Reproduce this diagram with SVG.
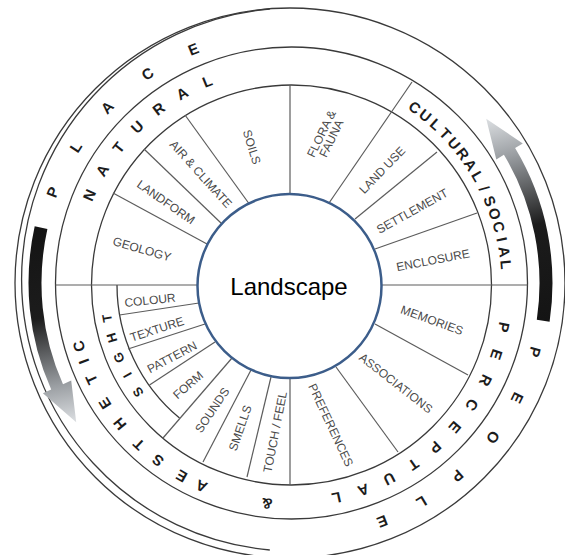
<svg xmlns="http://www.w3.org/2000/svg" width="565" height="555" viewBox="0 0 565 555">
<defs>
<style>
.ring{fill:none;stroke:#3a3a3a;stroke-width:1.3}
.div{fill:none;stroke:#5c5c5c;stroke-width:1.2}
.sub{font-family:"Liberation Sans",Arial,sans-serif;font-size:12px;fill:#4a4a4a;text-anchor:middle}
.cat{font-family:"Liberation Sans",Arial,sans-serif;font-size:15px;font-weight:bold;fill:#1c1c1c;text-anchor:middle}
.sight{font-family:"Liberation Sans",Arial,sans-serif;font-size:13px;font-weight:bold;fill:#1c1c1c;text-anchor:middle}
.title{font-family:"Liberation Sans",Arial,sans-serif;font-size:24px;fill:#000;text-anchor:middle}
</style>
<linearGradient id="gR" gradientUnits="userSpaceOnUse" x1="543" y1="321" x2="486" y2="119">
<stop offset="0" stop-color="#141414"/><stop offset="0.45" stop-color="#1c1c1c"/><stop offset="0.8" stop-color="#9a9ea2"/><stop offset="1" stop-color="#dcdfe2"/>
</linearGradient>
<linearGradient id="gL" gradientUnits="userSpaceOnUse" x1="41" y1="228" x2="76" y2="422">
<stop offset="0" stop-color="#141414"/><stop offset="0.45" stop-color="#1c1c1c"/><stop offset="0.8" stop-color="#9a9ea2"/><stop offset="1" stop-color="#dcdfe2"/>
</linearGradient>
</defs>
<rect width="565" height="555" fill="#ffffff"/>
<g id="rings">
<circle class="ring" cx="290" cy="283" r="275"/>
<path class="ring" d="M269.8 550 A271.5 271.5 0 0 1 269.8 9"/>
<circle class="ring" cx="291.5" cy="283" r="236"/>
<circle class="ring" cx="291.5" cy="285" r="200"/>
<path class="ring" d="M117 285 A173 173 0 0 0 179.5 418.1"/>
</g>
<g id="arrows">
<path id="arrow-right" fill="url(#gR)" d="M536.8 319.8 A249 249 0 0 0 503.9 154.8 L496.3 159.4 L486.2 118.8 L522.8 143.4 L515.1 148.1 A262 262 0 0 1 549.6 321.7 Z"/>
<path id="arrow-left" fill="url(#gL)" d="M34.7 226.3 A262 262 0 0 0 51.2 389.6 L42.9 393.2 L76.2 422.2 L71.2 380.6 L63.0 384.3 A249 249 0 0 1 47.4 229.1 Z"/>
</g>
<g id="connectors">
<line class="div" x1="55.5" y1="285" x2="200" y2="285"/>
<line class="div" x1="113" y1="193" x2="207" y2="244"/>
<line class="div" x1="144" y1="149" x2="222" y2="224"/>
<line class="div" x1="185" y1="115" x2="250" y2="205"/>
<line class="div" x1="290" y1="85" x2="290" y2="196"/>
<line class="div" x1="412" y1="82" x2="329" y2="203"/>
<line class="div" x1="437" y1="152" x2="355" y2="219"/>
<line class="div" x1="477" y1="213" x2="375" y2="249"/>
<line class="div" x1="378" y1="285" x2="527.5" y2="285"/>
<line class="div" x1="375" y1="324" x2="468" y2="375"/>
<line class="div" x1="336" y1="367" x2="398" y2="452"/>
<line class="div" x1="290" y1="374" x2="290" y2="485"/>
<line class="div" x1="119.5" y1="315" x2="199" y2="303"/>
<line class="div" x1="128" y1="349" x2="205" y2="324"/>
<line class="div" x1="149.5" y1="385" x2="215" y2="342"/>
<line class="div" x1="163" y1="438" x2="232" y2="358"/>
<line class="div" x1="203" y1="462" x2="251" y2="370"/>
<line class="div" x1="247" y1="477" x2="271" y2="377"/>
</g>
<g id="outer-labels">
<g id="place">
<text class="cat" x="290" y="35.5" transform="rotate(-68.6 290 285)">P</text>
<text class="cat" x="290" y="35.5" transform="rotate(-57.2 290 285)">L</text>
<text class="cat" x="290" y="35.5" transform="rotate(-45.8 290 285)">A</text>
<text class="cat" x="290" y="35.5" transform="rotate(-34 290 285)">C</text>
<text class="cat" x="290" y="35.5" transform="rotate(-22.3 290 285)">E</text>
</g>
<g id="people">
<text class="cat" x="290" y="36.5" transform="rotate(105.3 290 285)">P</text>
<text class="cat" x="290" y="36.5" transform="rotate(116.4 290 285)">E</text>
<text class="cat" x="290" y="36.5" transform="rotate(126.9 290 285)">O</text>
<text class="cat" x="290" y="36.5" transform="rotate(138.7 290 285)">P</text>
<text class="cat" x="290" y="36.5" transform="rotate(148.8 290 285)">L</text>
<text class="cat" x="290" y="36.5" transform="rotate(158.7 290 285)">E</text>
</g>
</g>
<g id="category-labels">
<g id="natural">
<text class="cat" x="290" y="70.5" transform="rotate(-65.9 290 285)">N</text>
<text class="cat" x="290" y="70.5" transform="rotate(-58.6 290 285)">A</text>
<text class="cat" x="290" y="70.5" transform="rotate(-51.3 290 285)">T</text>
<text class="cat" x="290" y="70.5" transform="rotate(-44 290 285)">U</text>
<text class="cat" x="290" y="70.5" transform="rotate(-36.7 290 285)">R</text>
<text class="cat" x="290" y="70.5" transform="rotate(-29.4 290 285)">A</text>
<text class="cat" x="290" y="70.5" transform="rotate(-22.1 290 285)">L</text>
</g>
<g id="cultural-social">
<text class="cat" x="290" y="73.5" transform="rotate(35.1 290 285)">C</text>
<text class="cat" x="290" y="73.5" transform="rotate(38.6 290 285)">U</text>
<text class="cat" x="290" y="73.5" transform="rotate(42.2 290 285)">L</text>
<text class="cat" x="290" y="73.5" transform="rotate(45.7 290 285)">T</text>
<text class="cat" x="290" y="73.5" transform="rotate(49.2 290 285)">U</text>
<text class="cat" x="290" y="73.5" transform="rotate(52.8 290 285)">R</text>
<text class="cat" x="290" y="73.5" transform="rotate(56.3 290 285)">A</text>
<text class="cat" x="290" y="73.5" transform="rotate(59.9 290 285)">L</text>
<text class="cat" x="290" y="73.5" transform="rotate(63.6 290 285)">/</text>
<text class="cat" x="290" y="73.5" transform="rotate(67.2 290 285)">S</text>
<text class="cat" x="290" y="73.5" transform="rotate(70.8 290 285)">O</text>
<text class="cat" x="290" y="73.5" transform="rotate(74.4 290 285)">C</text>
<text class="cat" x="290" y="73.5" transform="rotate(77.9 290 285)">I</text>
<text class="cat" x="290" y="73.5" transform="rotate(81.2 290 285)">A</text>
<text class="cat" x="290" y="73.5" transform="rotate(84.6 290 285)">L</text>
</g>
<g id="perceptual">
<text class="cat" x="290" y="72.5" transform="rotate(101.2 290 285)">P</text>
<text class="cat" x="290" y="72.5" transform="rotate(108.6 290 285)">E</text>
<text class="cat" x="290" y="72.5" transform="rotate(116 290 285)">R</text>
<text class="cat" x="290" y="72.5" transform="rotate(123.4 290 285)">C</text>
<text class="cat" x="290" y="72.5" transform="rotate(130.8 290 285)">E</text>
<text class="cat" x="290" y="72.5" transform="rotate(138.2 290 285)">P</text>
<text class="cat" x="290" y="72.5" transform="rotate(145.5 290 285)">T</text>
<text class="cat" x="290" y="72.5" transform="rotate(152.9 290 285)">U</text>
<text class="cat" x="290" y="72.5" transform="rotate(160.3 290 285)">A</text>
<text class="cat" x="290" y="72.5" transform="rotate(167.7 290 285)">L</text>
</g>
<text id="amp" class="cat" x="290" y="70.5" transform="rotate(186 290 285)">&amp;</text>
<g id="aesthetic">
<text class="cat" x="290" y="70.5" transform="rotate(203.8 290 285)">A</text>
<text class="cat" x="290" y="70.5" transform="rotate(209.6 290 285)">E</text>
<text class="cat" x="290" y="70.5" transform="rotate(217 290 285)">S</text>
<text class="cat" x="290" y="70.5" transform="rotate(223.5 290 285)">T</text>
<text class="cat" x="290" y="70.5" transform="rotate(230.8 290 285)">H</text>
<text class="cat" x="290" y="70.5" transform="rotate(237.4 290 285)">E</text>
<text class="cat" x="290" y="70.5" transform="rotate(244.6 290 285)">T</text>
<text class="cat" x="290" y="70.5" transform="rotate(249.7 290 285)">I</text>
<text class="cat" x="290" y="70.5" transform="rotate(253.8 290 285)">C</text>
</g>
<g id="sight">
<text class="sight" x="290" y="103.7" transform="rotate(234.8 290 285)">S</text>
<text class="sight" x="290" y="103.7" transform="rotate(241 290 285)">I</text>
<text class="sight" x="290" y="103.7" transform="rotate(247 290 285)">G</text>
<text class="sight" x="290" y="103.7" transform="rotate(253.5 290 285)">H</text>
<text class="sight" x="290" y="103.7" transform="rotate(259.7 290 285)">T</text>
</g>
</g>
<g id="subcategories">
<text id="geology" class="sub" y="4.3" transform="translate(142 249) rotate(16)">GEOLOGY</text>
<text id="landform" class="sub" y="4.3" transform="translate(166 202) rotate(35)">LANDFORM</text>
<text id="air-climate" class="sub" y="4.3" transform="translate(201 174) rotate(48)">AIR &amp; CLIMATE</text>
<text id="soils" class="sub" y="4.3" transform="translate(252 147) rotate(73)">SOILS</text>
<text id="flora-fauna" class="sub" transform="translate(326 136) rotate(-64)"><tspan x="0" y="-1">FLORA &amp;</tspan><tspan x="0" y="10">FAUNA</tspan></text>
<text id="land-use" class="sub" y="4.3" transform="translate(382 170) rotate(-46)">LAND USE</text>
<text id="settlement" class="sub" y="4.3" transform="translate(412 211) rotate(-29)">SETTLEMENT</text>
<text id="enclosure" class="sub" y="4.3" transform="translate(433 260) rotate(-11)">ENCLOSURE</text>
<text id="memories" class="sub" y="4.3" transform="translate(432 320) rotate(20)">MEMORIES</text>
<text id="associations" class="sub" y="4.3" transform="translate(396 383) rotate(38)">ASSOCIATIONS</text>
<text id="preferences" class="sub" y="4.3" transform="translate(331 425) rotate(65)">PREFERENCES</text>
<text id="touch-feel" class="sub" y="4.3" transform="translate(275 432) rotate(-79)">TOUCH / FEEL</text>
<text id="smells" class="sub" y="4.3" transform="translate(240 428) rotate(-71)">SMELLS</text>
<text id="sounds" class="sub" y="4.3" transform="translate(212 410) rotate(-56)">SOUNDS</text>
<text id="form" class="sub" y="4.3" transform="translate(188 385) rotate(-41)">FORM</text>
<text id="pattern" class="sub" y="4.3" transform="translate(172 357) rotate(-28)">PATTERN</text>
<text id="texture" class="sub" y="4.3" transform="translate(157 329) rotate(-18)">TEXTURE</text>
<text id="colour" class="sub" y="4.3" transform="translate(150 300) rotate(-6)">COLOUR</text>
</g>
<g id="landscape">
<circle cx="289.5" cy="286" r="92" fill="#ffffff" stroke="#3c5d8a" stroke-width="2.5"/>
<text class="title" x="289" y="295">Landscape</text>
</g>
</svg>
